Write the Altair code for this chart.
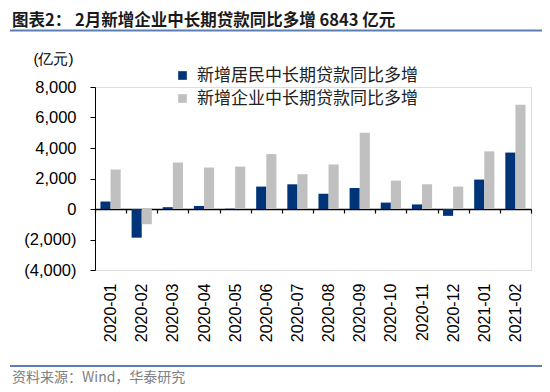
import altair as alt
import pandas as pd

months = ["2020-01", "2020-02", "2020-03", "2020-04", "2020-05", "2020-06", "2020-07",
          "2020-08", "2020-09", "2020-10", "2020-11", "2020-12", "2021-01", "2021-02"]
resident = [490, -1880, 120, 200, 20, 1470, 1620, 1000, 1380, 420, 300, -450, 1930, 3700]
corporate = [2590, -1000, 3050, 2720, 2780, 3600, 2280, 2920, 5000, 1860, 1620, 1470, 3780, 6843]
series_names = ["新增居民中长期贷款同比多增", "新增企业中长期贷款同比多增"]
series_colors = ["#003478", "#C0C0C0"]
y_ticks = [-4000, -2000, 0, 2000, 4000, 6000, 8000]
title_text = "图表2：  2月新增企业中长期贷款同比多增 6843 亿元"
source_text = "资料来源：Wind，华泰研究"
unit_text = "(亿元)"

rows = []
for m, r, c in zip(months, resident, corporate):
    rows.append({"month": m, "series": series_names[0], "value": r})
    rows.append({"month": m, "series": series_names[1], "value": c})
df = pd.DataFrame(rows)

W, H = 436, 183
zero_from_bottom = H * 4000 / 12000

label_expr = ("datum.value < 0 ? '(' + format(-datum.value, ',') + ')' : format(datum.value, ',')")

bars = alt.Chart(df).mark_bar().encode(
    x=alt.X("month:N", sort=months,
            scale=alt.Scale(paddingInner=0, paddingOuter=0),
            axis=alt.Axis(title=None, orient="bottom", offset=-zero_from_bottom,
                          tickBand="extent", tickSize=4, tickColor="#000", domainColor="#000",
                          domainWidth=1.5, tickWidth=1.2,
                          labelAngle=-90, labelPadding=70, labelFontSize=16,
                          labelFont="Liberation Sans", labelColor="#000")),
    xOffset=alt.XOffset("series:N", sort=series_names,
                        scale=alt.Scale(paddingInner=0, paddingOuter=0.54)),
    y=alt.Y("value:Q",
            scale=alt.Scale(domain=[-4000, 8000], nice=False, zero=True),
            axis=alt.Axis(values=y_ticks, labelExpr=label_expr, grid=False,
                          title=unit_text, titleAngle=0, titleAlign="center",
                          titleBaseline="middle", titleX=-42, titleY=-29,
                          titleFontSize=15, titleFontWeight="normal", titleColor="#000",
                          titleFont="Liberation Sans",
                          tickSize=5, tickColor="#000", domainColor="#000",
                          labelFontSize=16.5, labelFont="Liberation Sans", labelColor="#000",
                          labelPadding=14)),
    color=alt.Color("series:N", sort=series_names,
                    scale=alt.Scale(domain=series_names, range=series_colors),
                    legend=alt.Legend(title=None, orient="none", legendX=79, legendY=-20,
                                      symbolType="square", symbolSize=75,
                                      symbolStrokeWidth=0, labelLimit=0,
                                      labelFontSize=17, labelFont="Noto Sans CJK SC",
                                      labelColor="#222", rowPadding=5, labelOffset=6)),
)

title_df = pd.DataFrame({"t": [title_text]})
title_mark = alt.Chart(title_df).mark_text(
    align="left", baseline="middle", fontSize=16.5, fontWeight="bold",
    font="Noto Sans CJK SC", color="#1a1a1a"
).encode(text="t:N", x=alt.value(-83), y=alt.value(-66))

src_df = pd.DataFrame({"t": [source_text]})
src_mark = alt.Chart(src_df).mark_text(
    align="left", baseline="middle", fontSize=14,
    font="Noto Sans CJK SC", color="#808080"
).encode(text="t:N", x=alt.value(-83), y=alt.value(291))

line_df = pd.DataFrame({"k": [0]})
top_line = alt.Chart(line_df).mark_rule(color="#5b7fb5", strokeWidth=2).encode(
    x=alt.value(-85), x2=alt.value(448), y=alt.value(-56.5))
bot_line = alt.Chart(line_df).mark_rule(color="#5b7fb5", strokeWidth=2).encode(
    x=alt.value(-85), x2=alt.value(448), y=alt.value(279))

chart = alt.layer(bars, title_mark, src_mark, top_line, bot_line).properties(
    width=W, height=H,
    autosize=alt.AutoSizeParams(type="none"),
    padding={"left": 87, "top": 79, "right": 11, "bottom": 118},
).configure_view(stroke=None).configure(background="white")

chart.save("out.html", embed_options={"renderer": "svg", "actions": False})
